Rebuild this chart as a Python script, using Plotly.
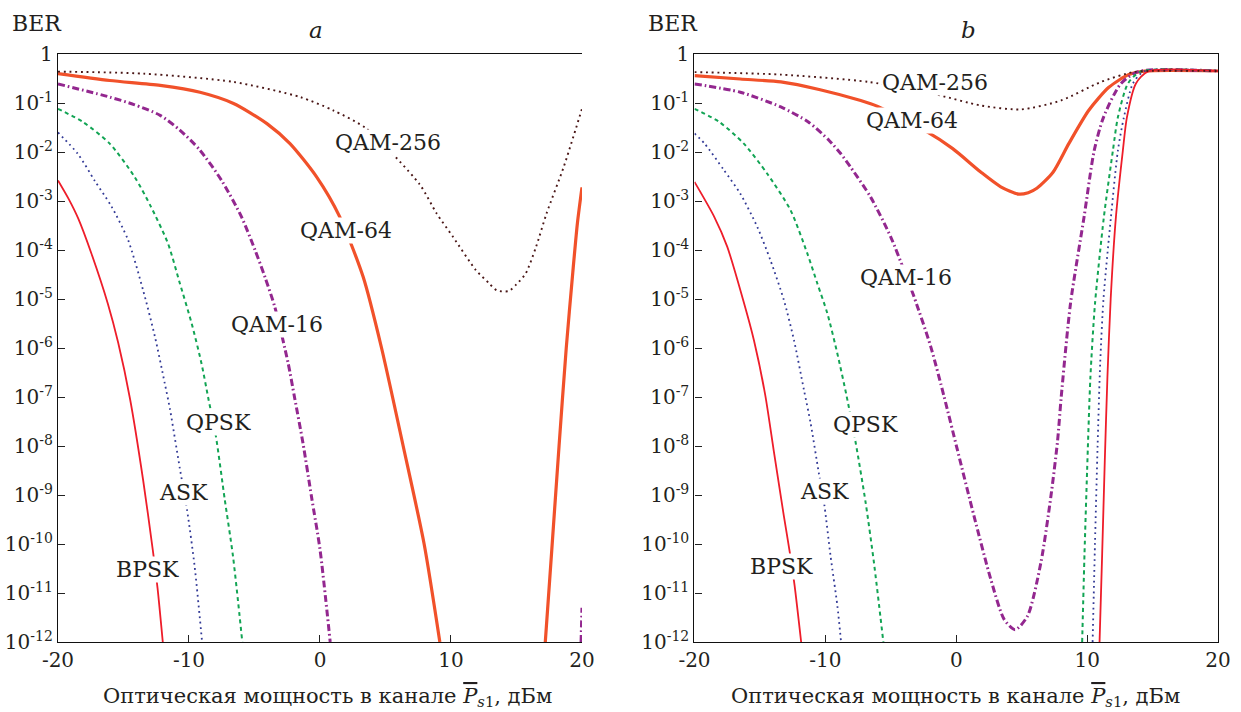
import plotly.graph_objects as go

# ---------------- data ----------------
# panel a
X_BPSK_A = [-20, -19.2, -18.45, -17.45, -16.2, -15.4, -14.5, -13.5, -12.75, -12.4, -12.0]
BER_BPSK_A = [2.63e-3, 1.12e-3, 4.37e-4, 8.5e-5, 8.1e-6, 1.26e-6, 9.1e-8, 2.0e-9, 7.1e-11, 1.26e-11, 1.0e-12]

X_ASK_A = [-20, -18.5, -17.2, -15.9, -14.65, -13.5, -12.6, -11.85, -11.45, -10.7, -10.15, -9.57, -9.0]
BER_ASK_A = [2.5e-2, 9.3e-3, 2.6e-3, 7.6e-4, 1.6e-4, 1.5e-5, 1.7e-6, 1.9e-7, 5.6e-8, 3.5e-9, 5.0e-10, 3.5e-11, 1.0e-12]

X_QPSK_A = [-20, -18.1, -16.05, -14.15, -12.9, -11.6, -10.7, -9.8, -9.05, -8.5, -7.95, -7.27, -6.64, -5.93]
BER_QPSK_A = [7.6e-2, 4.1e-2, 1.48e-2, 3.1e-3, 7.6e-4, 1.35e-4, 2.1e-5, 3.2e-6, 4.9e-7, 8.7e-8, 1.6e-8, 8.1e-10, 5.6e-11, 1.0e-12]

X_QAM16_A = [-20, -16.05, -14.2, -12.2, -10.7, -9.2, -7.5, -6.0, -4.96, -4.2, -3.45, -2.43, -1.92, -1.3, -0.65, 0.0, 0.78]
BER_QAM16_A = [0.245, 0.132, 9.3e-2, 5.6e-2, 2.8e-2, 1.12e-2, 2.6e-3, 4.8e-4, 1.0e-4, 2.8e-5, 6.9e-6, 4.9e-7, 9.1e-8, 1.15e-8, 9.3e-10, 7.8e-11, 1.0e-12]
X_QAM16_A2 = [19.93, 20.0]
BER_QAM16_A2 = [1.0e-12, 5.0e-12]

X_QAM64_A = [-20, -16.05, -12.2, -9.16, -6.6, -4.05, -2.29, -0.26, 1.5, 3.3, 4.7, 6.35, 7.95, 9.15]
BER_QAM64_A = [0.398, 0.288, 0.229, 0.166, 9.8e-2, 3.8e-2, 1.48e-2, 3.1e-3, 4.8e-4, 2.8e-5, 1.0e-6, 1.0e-8, 1.0e-10, 1.0e-12]
X_QAM64_A2 = [17.2, 17.7, 18.25, 18.8, 19.3, 19.65, 20.0]
BER_QAM64_A2 = [1.0e-12, 7.9e-11, 1.0e-8, 1.0e-6, 3.5e-5, 3.5e-4, 1.9e-3]

X_QAM256_A = [-20, -13.5, -6.6, -1.5, 1.0, 3.55, 7.6, 8.9, 10.15, 11.9, 12.9, 13.5, 14.4, 15.0, 15.7, 16.5,
              17.3, 18.6, 20.0]
BER_QAM256_A = [0.437, 0.398, 0.269, 0.132, 7.1e-2, 3.0e-2, 2.2e-3, 5.6e-4, 1.86e-4, 3.9e-5, 2.1e-5, 1.5e-5,
                1.45e-5, 2.0e-5, 3.3e-5, 1.17e-4, 5.6e-4, 4.9e-3, 7.6e-2]

# panel b
X_BPSK_B = [-20, -18.5, -17.5, -16.25, -15.45, -14.6, -13.94, -13.17, -12.7, -12.35, -11.85]
BER_BPSK_B = [2.45e-3, 4.8e-4, 1.17e-4, 8.9e-6, 1.41e-6, 1.12e-7, 7.9e-9, 3.7e-10, 6.3e-11, 1.41e-11, 1.0e-12]
X_BPSK_B2 = [10.95, 11.15, 11.35, 11.55, 11.8, 12.2, 12.73, 13.04, 13.73, 14.65, 20.0]
BER_BPSK_B2 = [1.0e-12, 6.3e-11, 5.0e-9, 2.5e-7, 1.0e-5, 4.7e-4, 1.07e-2, 5.1e-2, 0.25, 0.44, 0.45]

X_ASK_B = [-20, -19.2, -17.76, -16.5, -15.2, -14.2, -13.17, -12.4, -11.64, -11.13, -10.5, -10.1, -9.6, -9.08, -8.8]
BER_ASK_B = [2.4e-2, 1.45e-2, 4.3e-3, 1.41e-3, 2.95e-4, 6.2e-5, 9.5e-6, 1.45e-6, 1.41e-7, 2.95e-8, 2.8e-9, 6.9e-10, 5.6e-11, 5.4e-12, 1.0e-12]
X_ASK_B2 = [10.42, 10.6, 10.8, 11.0, 11.25, 11.82, 12.35, 12.81, 13.5, 14.34, 20.0]
BER_ASK_B2 = [1.0e-12, 1.0e-10, 1.0e-8, 5.0e-7, 1.0e-5, 4.7e-4, 1.07e-2, 5.1e-2, 0.25, 0.44, 0.45]

X_QPSK_B = [-20, -18.1, -16.23, -14.44, -12.66, -11.38, -10.62, -9.85, -9.09, -8.4, -7.68, -6.92, -6.29, -5.57]
BER_QPSK_B = [7.6e-2, 4.1e-2, 1.48e-2, 3.6e-3, 6.5e-4, 8.5e-5, 2.1e-5, 5.1e-6, 7.8e-7, 1.12e-7, 1.15e-8, 6.9e-10, 4.2e-11, 1.0e-12]
X_QPSK_B2 = [9.62, 9.8, 10.0, 10.25, 10.6, 11.28, 11.97, 12.35, 13.12, 14.1, 20.0]
BER_QPSK_B2 = [1.0e-12, 6.3e-11, 3.2e-9, 2.5e-7, 7.9e-6, 4.7e-4, 1.07e-2, 5.1e-2, 0.25, 0.44, 0.45]

X_QAM16_B = [-20, -16.5, -13.4, -11.3, -9.73, -8.83, -8.07, -6.54, -5.01, -4.0, -3.23, -1.95, -0.93,
             0.09, 1.36, 2.64, 3.66, 4.5, 5.45, 6.47, 7.23, 7.74, 8.02, 8.73, 9.77, 10.54, 11.25,
             12.56, 13.9, 20.0]
BER_QAM16_B = [0.245, 0.166, 8.3e-2, 4.1e-2, 1.74e-2, 9.3e-3, 4.9e-3, 1.2e-3, 1.86e-4, 3.9e-5, 1.12e-5,
               1.07e-6, 1.02e-7, 8.3e-9, 3.7e-10, 1.9e-11, 2.9e-12, 1.78e-12, 3.4e-12, 4.2e-11, 9.3e-10,
               1.26e-8, 1.0e-7, 8.1e-6, 4.8e-4, 1.07e-2, 5.1e-2, 0.245, 0.437, 0.45]

X_QAM64_B = [-20, -16.5, -13.4, -10.4, -7.3, -6.0, -2.41, -0.27, 1.87, 3.4, 4.78, 5.5, 6.16, 7.38, 8.6,
             10.13, 11.66, 13.19, 14.4, 20.0]
BER_QAM64_B = [0.363, 0.309, 0.269, 0.186, 0.112, 8.5e-2, 2.75e-2, 1.17e-2, 3.9e-3, 1.95e-3, 1.38e-3,
               1.48e-3, 1.82e-3, 3.8e-3, 1.48e-2, 7.1e-2, 0.209, 0.38, 0.447, 0.45]

X_QAM256_B = [-20, -13.42, -6.7, -1.49, 1.87, 4.93, 7.99, 11.05, 13.5, 14.7, 20.0]
BER_QAM256_B = [0.427, 0.38, 0.269, 0.148, 8.9e-2, 7.4e-2, 0.112, 0.269, 0.427, 0.45, 0.45]

Y_TICKVALS = [1, 1e-1, 1e-2, 1e-3, 1e-4, 1e-5, 1e-6, 1e-7, 1e-8, 1e-9, 1e-10, 1e-11, 1e-12]
Y_TICKTEXT = ["1"] + ["10<sup>-%d</sup>" % k for k in range(1, 13)]
X_TICKVALS = [-20, -10, 0, 10, 20]
X_TICKTEXT = ["-20", "-10", "0", "10", "20"]

LABELS_A = [("QAM-256", 5.2, -1.80), ("QAM-64", 2.0, -3.61), ("QAM-16", -3.27, -5.53),
            ("QPSK", -7.75, -7.52), ("ASK", -10.39, -8.94), ("BPSK", -13.13, -10.52)]
LABELS_B = [("QAM-256", -1.64, -0.575), ("QAM-64", -3.4, -1.35), ("QAM-16", -3.81, -4.56),
            ("QPSK", -6.92, -7.57), ("ASK", -10.06, -8.93), ("BPSK", -13.35, -10.46)]

# ---------------- styles ----------------
FONT = "DejaVu Serif"
TXT = "#231f20"
STY = {
    "BPSK": dict(color="#ee1d2a", width=1.8, dash="solid"),
    "ASK": dict(color="#333a96", width=1.8, dash="1.8px,3.6px"),
    "QPSK": dict(color="#12a454", width=2.0, dash="4px,3.5px"),
    "QAM16": dict(color="#93278f", width=3.0, dash="7px,3px,1.6px,3px"),
    "QAM64": dict(color="#f1512a", width=3.2, dash="solid"),
    "QAM256": dict(color="#4a1616", width=1.9, dash="1.9px,3.8px"),
}


def join(*parts):
    xs, ys = [], []
    for i, (px, py) in enumerate(parts):
        if i:
            xs.append(None)
            ys.append(None)
        xs += list(px)
        ys += list(py)
    return xs, ys


fig = go.Figure()


def add(key, xs, ys, xa, ya):
    s = STY[key]
    fig.add_trace(go.Scatter(
        x=xs, y=ys, mode="lines", xaxis=xa, yaxis=ya, showlegend=False,
        connectgaps=False, hoverinfo="skip",
        line=dict(color=s["color"], width=s["width"], dash=s["dash"],
                  shape="spline", smoothing=0.7)))


# panel a
add("QAM64", *join((X_QAM64_A, BER_QAM64_A), (X_QAM64_A2, BER_QAM64_A2)), "x", "y")
add("QAM16", *join((X_QAM16_A, BER_QAM16_A), (X_QAM16_A2, BER_QAM16_A2)), "x", "y")
add("QPSK", X_QPSK_A, BER_QPSK_A, "x", "y")
add("ASK", X_ASK_A, BER_ASK_A, "x", "y")
add("BPSK", X_BPSK_A, BER_BPSK_A, "x", "y")
add("QAM256", X_QAM256_A, BER_QAM256_A, "x", "y")

# panel b
add("QAM64", X_QAM64_B, BER_QAM64_B, "x2", "y2")
add("QAM16", X_QAM16_B, BER_QAM16_B, "x2", "y2")
add("QPSK", *join((X_QPSK_B, BER_QPSK_B), (X_QPSK_B2, BER_QPSK_B2)), "x2", "y2")
add("ASK", *join((X_ASK_B, BER_ASK_B), (X_ASK_B2, BER_ASK_B2)), "x2", "y2")
add("BPSK", *join((X_BPSK_B, BER_BPSK_B), (X_BPSK_B2, BER_BPSK_B2)), "x2", "y2")
add("QAM256", X_QAM256_B, BER_QAM256_B, "x2", "y2")

xaxis_common = dict(range=[-20, 20], tickvals=X_TICKVALS, ticktext=X_TICKTEXT,
                    ticks="inside", ticklen=7, tickwidth=1.2, tickcolor="#222",
                    showline=True, linecolor="#111", linewidth=1.4, mirror=True,
                    showgrid=False, zeroline=False, automargin=False,
                    tickfont=dict(family=FONT, size=20, color=TXT))
yaxis_common = dict(type="log", range=[-12, 0], tickvals=Y_TICKVALS, ticktext=Y_TICKTEXT,
                    ticks="inside", ticklen=7, tickwidth=1.2, tickcolor="#222",
                    showline=True, linecolor="#111", linewidth=1.4,
                    showgrid=False, zeroline=False, automargin=False,
                    tickfont=dict(family=FONT, size=20, color=TXT))

fig.update_layout(
    width=1241, height=712,
    margin=dict(l=58, r=23, t=54, b=70, autoexpand=False),
    paper_bgcolor="white", plot_bgcolor="white",
    font=dict(family=FONT, color=TXT),
    xaxis=dict(domain=[0, 0.4517], anchor="y", **xaxis_common),
    yaxis=dict(domain=[0, 1], anchor="x", mirror=False, **yaxis_common),
    xaxis2=dict(domain=[0.5487, 1], anchor="y2", **xaxis_common),
    yaxis2=dict(domain=[0, 1], anchor="x2", mirror=True, **yaxis_common),
)

ann = []
for (txt, x, y) in LABELS_A:
    ann.append(dict(text=txt, x=x, y=y, xref="x", yref="y", showarrow=False,
                    xanchor="center", yanchor="middle", bgcolor="white", borderpad=0,
                    font=dict(family=FONT, size=22, color=TXT)))
for (txt, x, y) in LABELS_B:
    ann.append(dict(text=txt, x=x, y=y, xref="x2", yref="y2", showarrow=False,
                    xanchor="center", yanchor="middle", bgcolor="white", borderpad=0,
                    font=dict(family=FONT, size=22, color=TXT)))

XTITLE = ('Оптическая мощность в канале '
          '<span style="text-decoration:overline"><i>P</i></span>'
          '<sub><i>s</i>1</sub>, дБм')
for xc in [0.232, 0.774]:
    ann.append(dict(text=XTITLE, x=xc, y=-0.094, xref="paper", yref="paper",
                    showarrow=False, xanchor="center", yanchor="middle",
                    font=dict(family=FONT, size=21, color=TXT)))
for xc, t in [(0.2224, "a"), (0.7845, "b")]:
    ann.append(dict(text="<i>%s</i>" % t, x=xc, y=1.04, xref="paper", yref="paper",
                    showarrow=False, xanchor="center", yanchor="middle",
                    font=dict(family=FONT, size=23, color=TXT)))
for xc in [-0.0181, 0.5298]:
    ann.append(dict(text="BER", x=xc, y=1.052, xref="paper", yref="paper",
                    showarrow=False, xanchor="center", yanchor="middle",
                    font=dict(family=FONT, size=22, color=TXT)))

fig.update_layout(annotations=ann)
fig.write_html("out.html", config={"displayModeBar": False},
               post_script="document.body.style.margin='0';document.body.style.padding='0';")
